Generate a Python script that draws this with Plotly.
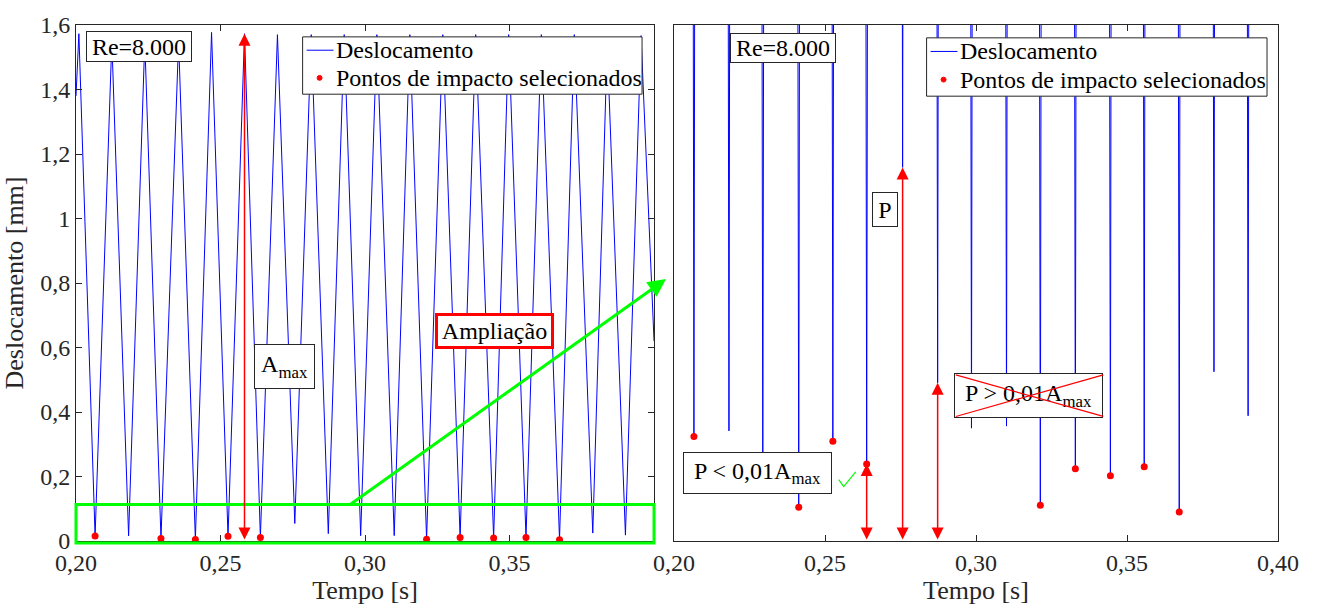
import plotly.graph_objects as go

# ---------------- data ----------------
t_start, v_start = 0.200, 1.38
peak_t = [0.2010, 0.2124, 0.2238, 0.2355, 0.2469, 0.2583, 0.2697, 0.2814, 0.2928,
          0.3041, 0.3155, 0.3269, 0.3383, 0.3497, 0.3610, 0.3724, 0.3838, 0.3955]
peak_v = [1.573, 1.55, 1.55, 1.55, 1.577, 1.573, 1.570, 1.570, 1.570,
          1.570, 1.570, 1.570, 1.570, 1.570, 1.570, 1.570, 1.540, 1.567]
min_t = [0.2066, 0.2182, 0.2294, 0.2413, 0.2526, 0.2638, 0.2757, 0.2873, 0.2985,
         0.3101, 0.3213, 0.3329, 0.3445, 0.3557, 0.3673, 0.3788, 0.3901]
min_v = [0.0152, 0.0160, 0.0080, 0.0049, 0.0145, 0.0112, 0.0543, 0.0230, 0.0164,
         0.0167, 0.0052, 0.0105, 0.0095, 0.0108, 0.0042, 0.0246, 0.0182]
t_end, v_end = 0.400, 0.62

imp_t = [0.2066, 0.2294, 0.2413, 0.2526, 0.2638, 0.3213, 0.3329, 0.3445, 0.3557, 0.3673]
imp_v = [0.0152, 0.0080, 0.0049, 0.0145, 0.0112, 0.0052, 0.0105, 0.0095, 0.0108, 0.0042]

series_names = ["Deslocamento", "Pontos de impacto selecionados"]
x_ticks_left = [0.20, 0.25, 0.30, 0.35]
x_ticks_right = [0.20, 0.25, 0.30, 0.35, 0.40]
y_ticks_left = [0, 0.2, 0.4, 0.6, 0.8, 1.0, 1.2, 1.4, 1.6]
zoom_top = 0.113          # top of the green "Ampliação" box (mm)
right_ymax = 0.075        # y range of the zoomed panel (mm)

# ---------------- build the displacement line ----------------
line_t = [t_start]
line_v = [v_start]
for i in range(len(peak_t)):
    line_t.append(peak_t[i]); line_v.append(peak_v[i])
    if i < len(min_t):
        line_t.append(min_t[i]); line_v.append(min_v[i])
line_t.append(t_end); line_v.append(v_end)

W, H = 1318, 612
ML, MR, MT, MB = 74, 40, 21, 69
PW, PH = W - ML - MR, H - MT - MB


def px(x):
    return (x - ML) / PW


def py(y):
    return (H - MB - y) / PH


FONT = "Liberation Serif"
AX = "#262626"
BLUE = "#0000FF"
RED = "#FF0000"
LIME = "#00FF00"

fig = go.Figure()
for xa, ya in [("x", "y"), ("x2", "y2")]:
    fig.add_trace(go.Scatter(x=line_t, y=line_v, mode="lines", name=series_names[0],
                             line=dict(color=BLUE, width=1), xaxis=xa, yaxis=ya,
                             showlegend=False))
    fig.add_trace(go.Scatter(x=imp_t, y=imp_v, mode="markers", name=series_names[1],
                             marker=dict(color=RED, size=7), xaxis=xa, yaxis=ya,
                             showlegend=False, cliponaxis=(xa == "x2")))

axis_common = dict(showline=True, linecolor=AX, linewidth=1, mirror="ticks",
                   ticks="inside", ticklen=6, tickcolor=AX, showgrid=False,
                   zeroline=False, tickfont=dict(family=FONT, size=24, color=AX))
title_font = dict(family=FONT, size=26, color=AX)

fig.update_layout(
    width=W, height=H, margin=dict(l=ML, r=MR, t=MT, b=MB),
    plot_bgcolor="white", paper_bgcolor="white",
    separators=",.", showlegend=False,
    font=dict(family=FONT, color=AX),
    xaxis=dict(axis_common, domain=[0, px(653)], range=[0.20, 0.40],
               tickvals=x_ticks_left, tickformat=".2f",
               title=dict(text="Tempo [s]", font=title_font, standoff=6), anchor="y"),
    yaxis=dict(axis_common, domain=[0, 1], range=[0, 1.6], tickvals=y_ticks_left,
               title=dict(text="Deslocamento [mm]", font=title_font, standoff=10), anchor="x"),
    xaxis2=dict(axis_common, domain=[px(673), 1], range=[0.20, 0.40],
                tickvals=x_ticks_right, tickformat=".2f",
                title=dict(text="Tempo [s]", font=title_font, standoff=6), anchor="y2"),
    yaxis2=dict(showline=True, linecolor=AX, linewidth=1, mirror=True, ticks="",
                showticklabels=False, showgrid=False, zeroline=False,
                domain=[0, 1], range=[0, right_ymax], anchor="x2"),
)


def text_at(text, x, y, xanchor="center", size=24):
    fig.add_annotation(xref="paper", yref="paper", x=px(x), y=py(y),
                       xanchor=xanchor, yanchor="middle", text=text, showarrow=False,
                       borderpad=0, font=dict(family=FONT, size=size, color="black"))


# ---------------- legends (drawn as keys in the MATLAB style) ----------------
def legend_box(x0, y0, x1, y1):
    fig.add_shape(type="rect", xref="paper", yref="paper",
                  x0=px(x0), x1=px(x1), y0=py(y0), y1=py(y1),
                  line=dict(color=AX, width=1), fillcolor="white", layer="above")
    r1 = y0 + (y1 - y0) * 0.25 - 1
    r2 = y0 + (y1 - y0) * 0.75 - 2
    fig.add_shape(type="line", xref="paper", yref="paper",
                  x0=px(x0 + 4), x1=px(x0 + 31), y0=py(r1), y1=py(r1),
                  line=dict(color=BLUE, width=1), layer="above")
    cx = x0 + 17
    fig.add_shape(type="circle", xref="paper", yref="paper",
                  x0=px(cx - 2.5), x1=px(cx + 2.5), y0=py(r2 - 2.5), y1=py(r2 + 2.5),
                  line=dict(color=RED, width=1), fillcolor=RED, layer="above")
    text_at(series_names[0], x0 + 32, r1, xanchor="left")
    text_at(series_names[1], x0 + 32, r2, xanchor="left")


legend_box(301, 33, 641, 91)
legend_box(926, 34, 1267, 93)


def box(text, cx, cy, w, h, border=AX, bw=1, size=24):
    fig.add_annotation(xref="paper", yref="paper", x=px(cx), y=py(cy),
                       xanchor="center", yanchor="middle", text=text,
                       showarrow=False, bgcolor="white", bordercolor=border,
                       borderwidth=bw, borderpad=0, width=w, height=h,
                       font=dict(family=FONT, size=size, color="black"))


box("Re=8.000", 137, 42.5, 104, 29)
box("Re=8.000", 782, 44, 104, 28)
box("A<sub>max</sub>", 282.5, 366.5, 59, 43)
box("Ampliação", 493, 330.5, 113, 30, border=RED, bw=3)
box("P", 884, 207.5, 24, 33)
box("P < 0,01A<sub>max</sub>", 756.5, 474, 147, 40)
box("P > 0,01A<sub>max</sub>", 1028.5, 395.5, 147, 43)

# red cross drawn over the "P > 0,01Amax" box (annotation lines sit above the box)
for (x0, y0, x1, y1) in [(954, 375, 1103, 417), (954, 417, 1103, 375)]:
    fig.add_annotation(xref="paper", yref="paper", x=px(x1), y=py(y1),
                       ax=x0 - x1, ay=y0 - y1, text="", showarrow=True,
                       arrowhead=0, arrowwidth=1.2, arrowcolor=RED, standoff=0)

# green check mark
fig.add_shape(type="path", xref="paper", yref="paper",
              path=f"M {px(838)},{py(481)} L {px(843)},{py(488)} L {px(855)},{py(473)}",
              line=dict(color=LIME, width=1.2))

# green zoom box on the left panel
fig.add_shape(type="rect", xref="x domain", yref="y domain", x0=0, x1=1,
              y0=-0.004, y1=zoom_top / 1.6, line=dict(color=LIME, width=3))

# green arrow to the zoomed panel
fig.add_annotation(xref="paper", yref="paper", x=px(665), y=py(278),
                   ax=347 - 665, ay=505 - 278, text="", showarrow=True,
                   arrowhead=2, arrowsize=1.2, arrowwidth=3, arrowcolor=LIME, standoff=0)


def darrow(xr, yr, x, y0, y1):
    fig.add_annotation(xref=xr, yref=yr, axref=xr, ayref=yr, x=x, y=y1, ax=x, ay=y0,
                       text="", showarrow=True, arrowside="end+start",
                       arrowhead=2, startarrowhead=2, arrowsize=1.6, startarrowsize=1.6,
                       arrowwidth=1.5, arrowcolor=RED, standoff=0, startstandoff=0)


darrow("x", "y", peak_t[5], 0, peak_v[5])
darrow("x2", "y2", min_t[5], 0, min_v[5])
darrow("x2", "y2", min_t[6], 0, min_v[6])
darrow("x2", "y2", min_t[7], 0, min_v[7])

fig.write_html("out.html")
